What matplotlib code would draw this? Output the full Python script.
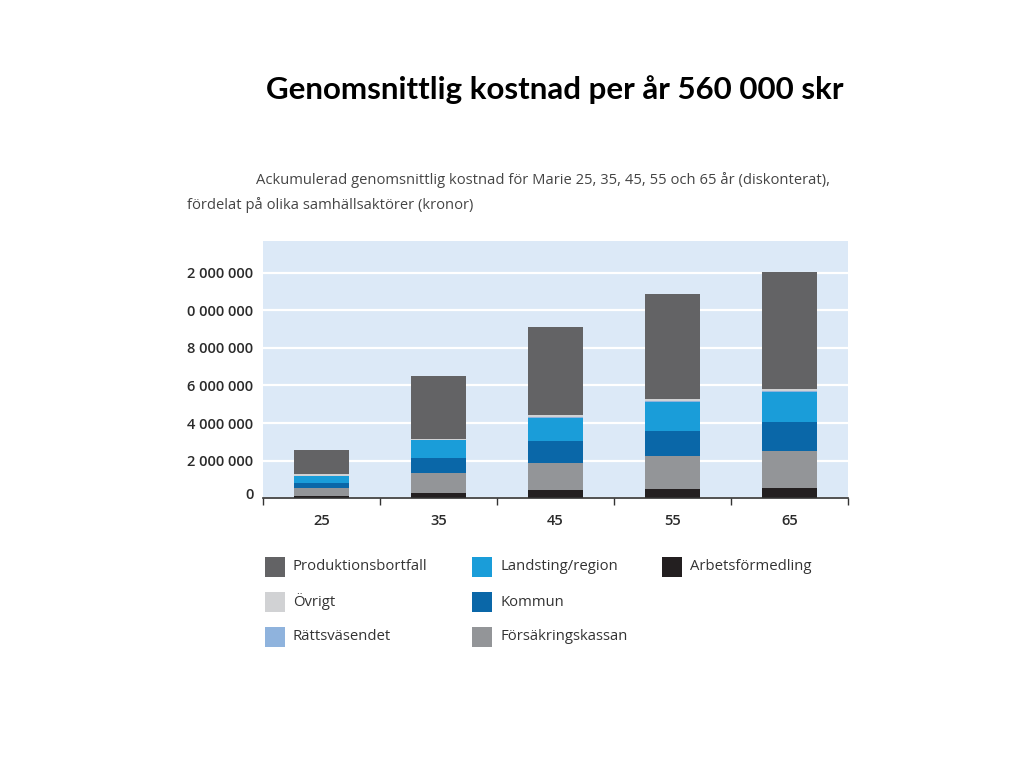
import numpy as np
import matplotlib
matplotlib.use("Agg")
import matplotlib.pyplot as plt
import matplotlib.transforms as mtransforms
from matplotlib.patches import Rectangle

# Data (kronor, accumulated)
ages = ["25", "35", "45", "55", "65"]
arbetsformedling = [120000, 270000, 440000, 510000, 570000]
forsakringskassan = [450000, 1060000, 1460000, 1740000, 1930000]
kommun = [230000, 800000, 1150000, 1330000, 1540000]
landsting = [390000, 970000, 1240000, 1560000, 1630000]
rattsvasendet = [10000, 20000, 20000, 20000, 20000]
ovrigt = [80000, 50000, 120000, 120000, 130000]
produktionsbortfall = [1290000, 3320000, 4670000, 5590000, 6220000]

ytick_vals = [0, 2000000, 4000000, 6000000, 8000000, 10000000, 12000000]
ytick_labels = ["0", "2 000 000", "4 000 000", "6 000 000", "8 000 000", "0 000 000", "2 000 000"]

# stacking order bottom -> top
series = [
    ("Arbetsförmedling", arbetsformedling, "#231f20"),
    ("Försäkringskassan", forsakringskassan, "#939598"),
    ("Kommun", kommun, "#0a67a8"),
    ("Landsting/region", landsting, "#1a9dd9"),
    ("Rättsväsendet", rattsvasendet, "#8fb3dd"),
    ("Övrigt", ovrigt, "#d1d2d4"),
    ("Produktionsbortfall", produktionsbortfall, "#636365"),
]

fig = plt.figure(figsize=(10.24, 7.68), dpi=100)
fig.patch.set_facecolor("white")

ax = fig.add_axes([263 / 1024, 1 - 498.3 / 768, 585 / 1024, 257.3 / 768])
ax.set_facecolor("#dce9f7")

x = np.arange(len(ages))
bottom = np.zeros(len(ages))
for name, vals, col in series:
    ax.bar(x, vals, width=0.47, bottom=bottom, color=col, edgecolor="none", zorder=3)
    bottom += np.array(vals)

ax.set_xlim(-0.5, len(ages) - 0.5)
ax.set_ylim(0, 13.68e6)
ax.set_yticks(ytick_vals)
ax.set_yticklabels(ytick_labels, fontsize=10.5, color="#2b2b2b", family="Open Sans",
                   fontweight="semibold")
ax.yaxis.grid(True, color="white", linewidth=1.6, zorder=1)
ax.tick_params(axis="y", length=0, pad=7)
# the "0" label sits a little above the baseline in the original
zero_lbl = ax.get_yticklabels()[0]
zero_lbl.set_transform(zero_lbl.get_transform() +
                       mtransforms.ScaledTranslation(0, 5 / 100, fig.dpi_scale_trans))

ax.set_xticks(x)
ax.set_xticklabels(ages, fontsize=10.5, color="#2b2b2b", family="Open Sans",
                   fontweight="semibold")
ax.set_xticks(np.arange(-0.5, len(ages)), minor=True)
ax.tick_params(axis="x", which="major", length=0, pad=11)
ax.tick_params(axis="x", which="minor", length=5, width=1, color="#333333", direction="out")

for side in ["top", "right", "left"]:
    ax.spines[side].set_visible(False)
ax.spines["bottom"].set_color("#333333")
ax.spines["bottom"].set_linewidth(1.2)
ax.spines["bottom"].set_zorder(4)

# titles
fig.text(555 / 1024, 1 - 90 / 768, "Genomsnittlig kostnad per år 560 000 skr",
         ha="center", va="center", fontsize=22.5, fontweight="bold", family="Lato", color="black")
fig.text(256 / 1024, 1 - 180 / 768,
         "Ackumulerad genomsnittlig kostnad för Marie 25, 35, 45, 55 och 65 år (diskonterat),",
         ha="left", va="center", fontsize=10.6, family="Open Sans", color="#444444")
fig.text(187 / 1024, 1 - 205 / 768, "fördelat på olika samhällsaktörer (kronor)",
         ha="left", va="center", fontsize=10.6, family="Open Sans", color="#444444")

# legend laid out in three columns as in the reference
legend_layout = [
    ("Produktionsbortfall", 0, 0), ("Övrigt", 0, 1), ("Rättsväsendet", 0, 2),
    ("Landsting/region", 1, 0), ("Kommun", 1, 1), ("Försäkringskassan", 1, 2),
    ("Arbetsförmedling", 2, 0),
]
colors = {name: col for name, vals, col in series}
col_x = [265, 472, 662]
row_y = [567, 602, 637]
sq = 20
for name, c, r in legend_layout:
    fig.add_artist(Rectangle(((col_x[c]) / 1024, 1 - (row_y[r] + sq / 2) / 768),
                             sq / 1024, sq / 768, transform=fig.transFigure,
                             facecolor=colors[name], edgecolor="none"))
    fig.text((col_x[c] + 28) / 1024, 1 - row_y[r] / 768, name, ha="left", va="center",
             fontsize=10.7, family="Open Sans", color="#333333")

fig.savefig("out.png", dpi=100)
